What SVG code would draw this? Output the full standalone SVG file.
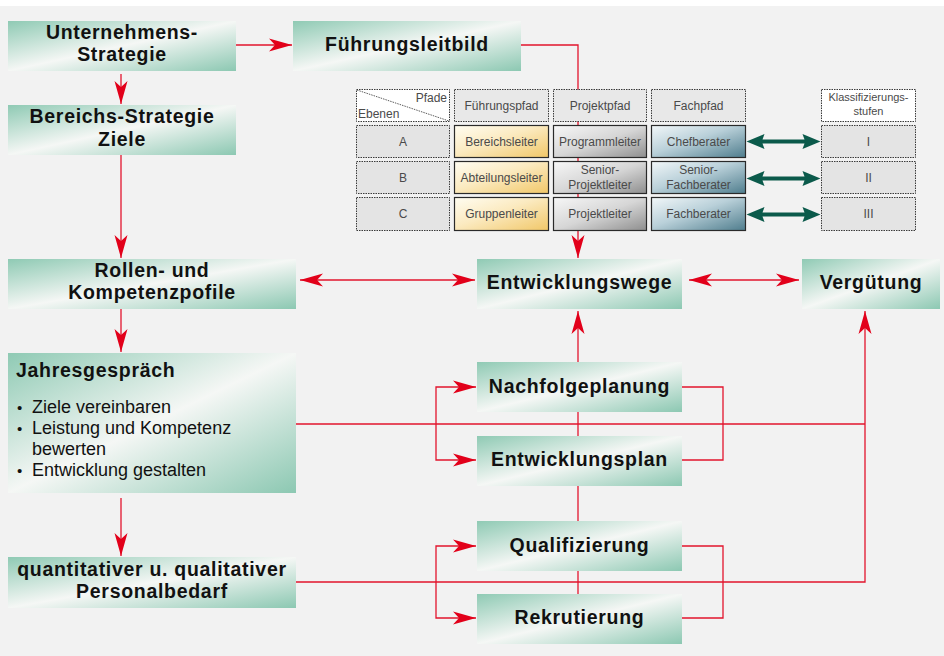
<svg xmlns="http://www.w3.org/2000/svg" xmlns:xlink="http://www.w3.org/1999/xlink" width="944" height="656" viewBox="0 0 944 656">
<defs>
<style>
.b{font-family:"Liberation Sans",Arial,sans-serif;font-weight:bold;font-size:19.5px;letter-spacing:0.7px;fill:#111;text-anchor:middle}
.t{font-family:"Liberation Sans",Arial,sans-serif;font-size:18px;fill:#111}
.bu{font-size:15px}
.c{font-family:"Liberation Sans",Arial,sans-serif;font-size:12px;fill:#4a4a4a;text-anchor:middle}
.box{fill:url(#gg)}
.dot{stroke:#3a3a3a;stroke-width:1;stroke-dasharray:1.5 1}
.sol{stroke:#2a2a2a;stroke-width:1.2}
.r{fill:none;stroke:#e2142d;stroke-width:1.3}
</style>
<linearGradient id="gg" x1="0" y1="0" x2="1" y2="1">
<stop offset="0" stop-color="#8fcab4"/>
<stop offset="0.5" stop-color="#f5f7f5"/>
<stop offset="1" stop-color="#8cc8b2"/>
</linearGradient>
<linearGradient id="gy" x1="0" y1="0" x2="1" y2="1">
<stop offset="0" stop-color="#fffdf2"/>
<stop offset="0.45" stop-color="#fbeac0"/>
<stop offset="1" stop-color="#f1c768"/>
</linearGradient>
<linearGradient id="gr" x1="0" y1="0" x2="1" y2="1">
<stop offset="0" stop-color="#f7f7f7"/>
<stop offset="0.5" stop-color="#d6d6d6"/>
<stop offset="1" stop-color="#8e8e8e"/>
</linearGradient>
<linearGradient id="gb" x1="0" y1="0" x2="1" y2="1">
<stop offset="0" stop-color="#f2f7f9"/>
<stop offset="0.45" stop-color="#b9d0d9"/>
<stop offset="1" stop-color="#4f7d8d"/>
</linearGradient>
<marker id="ar" markerUnits="userSpaceOnUse" markerWidth="26" markerHeight="16" viewBox="-25 -8 26 16" refX="0" refY="0" orient="auto-start-reverse">
<path d="M0,0 L-23,-6.5 L-17,0 L-23,6.5 Z" fill="#e2001a"/>
</marker>
<path id="ga" d="M-37,0 L-19,-7.5 L-21,-2 L21,-2 L19,-7.5 L37,0 L19,7.5 L21,2 L-21,2 L-19,7.5 Z" fill="#0b5a4b"/>
</defs>
<rect x="0" y="0" width="944" height="656" fill="#ffffff"/>
<rect x="0" y="6" width="944" height="650" fill="#f2f2f2"/>

<g id="connectors">
<line class="r" x1="236" y1="45" x2="292" y2="45" marker-end="url(#ar)"/>
<line class="r" x1="121" y1="74" x2="121" y2="104" marker-end="url(#ar)"/>
<line class="r" x1="121" y1="155" x2="121" y2="258" marker-end="url(#ar)"/>
<line class="r" x1="121" y1="309" x2="121" y2="352" marker-end="url(#ar)"/>
<line class="r" x1="121" y1="498" x2="121" y2="556" marker-end="url(#ar)"/>
<path class="r" d="M521,45 H578 V258" marker-end="url(#ar)"/>
<line class="r" x1="300" y1="280" x2="475" y2="280" marker-start="url(#ar)" marker-end="url(#ar)"/>
<line class="r" x1="689" y1="280" x2="799" y2="280" marker-start="url(#ar)" marker-end="url(#ar)"/>
<line class="r" x1="578" y1="362" x2="578" y2="311" marker-end="url(#ar)"/>
<path class="r" d="M476,387 H436 V460 H476" marker-start="url(#ar)" marker-end="url(#ar)"/>
<path class="r" d="M682,387 H723 V460 H682"/>
<line class="r" x1="578" y1="412" x2="578" y2="436"/>
<path class="r" d="M296,424 H865"/>
<path class="r" d="M296,582 H865 V311" marker-end="url(#ar)"/>
<line class="r" x1="578" y1="486" x2="578" y2="521"/>
<line class="r" x1="578" y1="571" x2="578" y2="594"/>
<path class="r" d="M476,546 H436 V618 H476" marker-start="url(#ar)" marker-end="url(#ar)"/>
<path class="r" d="M682,546 H723 V618 H682"/>
<use xlink:href="#ga" href="#ga" x="783.5" y="141.5"/>
<use xlink:href="#ga" href="#ga" x="783.5" y="178.5"/>
<use xlink:href="#ga" href="#ga" x="783.5" y="214.5"/>
</g>

<g id="unternehmensstrategie">
<rect class="box" x="8" y="21" width="228" height="50"/>
<text class="b"><tspan x="122" y="39">Unternehmens-</tspan><tspan x="122" y="61">Strategie</tspan></text>
</g>
<g id="fuehrungsleitbild">
<rect class="box" x="293" y="21" width="228" height="50"/>
<text class="b" x="407" y="51">Führungsleitbild</text>
</g>
<g id="bereichsstrategie">
<rect class="box" x="8" y="105" width="228" height="50"/>
<text class="b"><tspan x="122" y="123">Bereichs-Strategie</tspan><tspan x="122" y="146">Ziele</tspan></text>
</g>

<g id="tabelle">
<rect x="356.5" y="89.5" width="93" height="32" fill="#ffffff" class="dot"/>
<line x1="357" y1="90" x2="449" y2="121" stroke="#333" stroke-width="0.8" stroke-dasharray="1.5 1"/>
<text class="c" x="447" y="102" style="text-anchor:end">Pfade</text>
<text class="c" x="358" y="118" style="text-anchor:start">Ebenen</text>
<rect x="454.5" y="89.5" width="94" height="32" fill="#e8e8e8" class="dot"/>
<text class="c" x="501.5" y="110">Führungspfad</text>
<rect x="553.5" y="89.5" width="93" height="32" fill="#e8e8e8" class="dot"/>
<text class="c" x="600" y="110">Projektpfad</text>
<rect x="651.5" y="89.5" width="94" height="32" fill="#e8e8e8" class="dot"/>
<text class="c" x="698.5" y="110">Fachpfad</text>
<rect x="821.5" y="89.5" width="94" height="32" fill="#ffffff" class="dot"/>
<text class="c" style="font-size:11px"><tspan x="868.5" y="101">Klassifizierungs-</tspan><tspan x="868.5" y="115">stufen</tspan></text>

<rect x="356.5" y="125.5" width="93" height="32" fill="#e4e4e4" class="dot"/>
<text class="c" x="403" y="146">A</text>
<rect x="356.5" y="161.5" width="93" height="32" fill="#e4e4e4" class="dot"/>
<text class="c" x="403" y="182">B</text>
<rect x="356.5" y="197.5" width="93" height="33" fill="#e4e4e4" class="dot"/>
<text class="c" x="403" y="218">C</text>

<rect x="454.5" y="125.5" width="94" height="32" fill="url(#gy)" class="sol"/>
<text class="c" x="501.5" y="146">Bereichsleiter</text>
<rect x="454.5" y="161.5" width="94" height="32" fill="url(#gy)" class="sol"/>
<text class="c" x="501.5" y="182">Abteilungsleiter</text>
<rect x="454.5" y="197.5" width="94" height="33" fill="url(#gy)" class="sol"/>
<text class="c" x="501.5" y="218">Gruppenleiter</text>

<rect x="553.5" y="125.5" width="93" height="32" fill="url(#gr)" class="sol"/>
<text class="c" x="600" y="146">Programmleiter</text>
<rect x="553.5" y="161.5" width="93" height="32" fill="url(#gr)" class="sol"/>
<text class="c"><tspan x="600" y="174">Senior-</tspan><tspan x="600" y="189">Projektleiter</tspan></text>
<rect x="553.5" y="197.5" width="93" height="33" fill="url(#gr)" class="sol"/>
<text class="c" x="600" y="218">Projektleiter</text>

<rect x="651.5" y="125.5" width="94" height="32" fill="url(#gb)" class="sol"/>
<text class="c" x="698.5" y="146">Chefberater</text>
<rect x="651.5" y="161.5" width="94" height="32" fill="url(#gb)" class="sol"/>
<text class="c"><tspan x="698.5" y="174">Senior-</tspan><tspan x="698.5" y="189">Fachberater</tspan></text>
<rect x="651.5" y="197.5" width="94" height="33" fill="url(#gb)" class="sol"/>
<text class="c" x="698.5" y="218">Fachberater</text>

<rect x="821.5" y="125.5" width="94" height="32" fill="#e4e4e4" class="dot"/>
<text class="c" x="868.5" y="146">I</text>
<rect x="821.5" y="161.5" width="94" height="32" fill="#e4e4e4" class="dot"/>
<text class="c" x="868.5" y="182">II</text>
<rect x="821.5" y="197.5" width="94" height="33" fill="#e4e4e4" class="dot"/>
<text class="c" x="868.5" y="218">III</text>
</g>

<g id="rollen">
<rect class="box" x="8" y="259" width="288" height="50"/>
<text class="b"><tspan x="152" y="277">Rollen- und</tspan><tspan x="152" y="299">Kompetenzpofile</tspan></text>
</g>
<g id="entwicklungswege">
<rect class="box" x="477" y="259" width="205" height="50"/>
<text class="b" x="579.5" y="289">Entwicklungswege</text>
</g>
<g id="verguetung">
<rect class="box" x="802" y="259" width="138" height="50"/>
<text class="b" x="871" y="289">Vergütung</text>
</g>
<g id="jahresgespraech">
<rect class="box" x="8" y="353" width="288" height="140"/>
<text class="b" x="16" y="377" style="text-anchor:start">Jahresgespräch</text>
<text class="t"><tspan class="bu" x="17" y="413">•</tspan><tspan x="32" y="413">Ziele vereinbaren</tspan><tspan class="bu" x="17" y="434">•</tspan><tspan x="32" y="434">Leistung und Kompetenz</tspan><tspan x="32" y="455">bewerten</tspan><tspan class="bu" x="17" y="476">•</tspan><tspan x="32" y="476">Entwicklung gestalten</tspan></text>
</g>
<g id="nachfolgeplanung">
<rect class="box" x="477" y="362" width="205" height="50"/>
<text class="b" x="579.5" y="393">Nachfolgeplanung</text>
</g>
<g id="entwicklungsplan">
<rect class="box" x="477" y="436" width="205" height="50"/>
<text class="b" x="579.5" y="466">Entwicklungsplan</text>
</g>
<g id="qualifizierung">
<rect class="box" x="477" y="521" width="205" height="50"/>
<text class="b" x="579.5" y="552">Qualifizierung</text>
</g>
<g id="rekrutierung">
<rect class="box" x="477" y="594" width="205" height="50"/>
<text class="b" x="579.5" y="624">Rekrutierung</text>
</g>
<g id="personalbedarf">
<rect class="box" x="8" y="557" width="288" height="51"/>
<text class="b"><tspan x="152" y="576">quantitativer u. qualitativer</tspan><tspan x="152" y="598">Personalbedarf</tspan></text>
</g>
</svg>
